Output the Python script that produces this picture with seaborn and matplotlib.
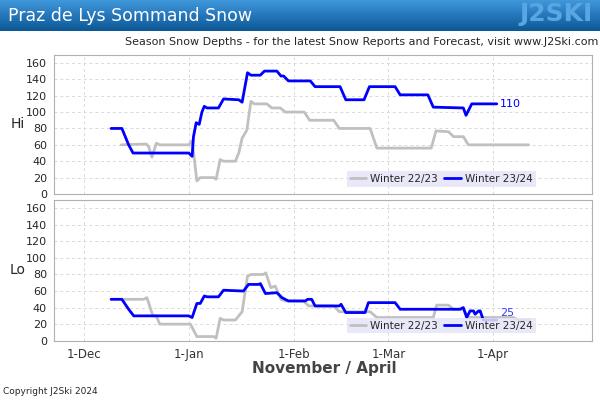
import numpy as np
import pandas as pd
import matplotlib
matplotlib.use('Agg')
import matplotlib.pyplot as plt
import seaborn as sns
from matplotlib.colors import LinearSegmentedColormap

# x values are days counted from 1-Nov
month_days = [30, 61, 92, 120, 151]
month_labels = ['1-Dec', '1-Jan', '1-Feb', '1-Mar', '1-Apr']
seasons = ['Winter 22/23', 'Winter 23/24']

# Hi - Winter 22/23
hi_2223_day = [40.9, 48.3, 49.0, 50.0, 51.3, 52.3, 60.9, 61.9, 63.3, 64.3, 68.3, 69.0, 70.2, 71.2,
               74.7, 75.7, 76.7, 78.1, 79.3, 80.3, 84.0, 85.5, 88.0, 89.5, 95.1, 96.7, 103.8, 105.5,
               114.6, 116.6, 132.7, 134.1, 137.8, 139.3, 142.2, 143.7, 161.5]
hi_2223 = [60, 61, 58, 45, 62, 60, 60, 65, 16, 20, 20, 18, 42, 40,
           40, 50, 68, 78, 113, 110, 110, 105, 105, 100, 100, 90, 90, 80,
           80, 56, 56, 77, 76, 70, 70, 60, 60]

# Hi - Winter 23/24
hi_2324_day = [37.9, 41.1, 43.1, 44.4, 60.9, 61.9, 62.3, 63.1, 64.0, 64.8, 65.5, 66.3, 69.7, 71.2,
               75.7, 76.7, 78.3, 79.3, 82.1, 83.3, 87.0, 88.2, 89.0, 90.4, 96.9, 98.3, 105.7, 107.4,
               112.8, 114.4, 122.0, 123.5, 131.7, 133.3, 142.2, 143.0, 144.7, 152.1]
hi_2324 = [80, 80, 60, 50, 50, 46, 70, 87, 85, 100, 107, 105, 105, 116,
           115, 112, 148, 145, 145, 150, 150, 144, 144, 138, 138, 131, 131, 115,
           115, 131, 131, 121, 121, 106, 105, 96, 110, 110]

# Lo - Winter 22/23
lo_2223_day = [40.9, 47.5, 48.5, 50.3, 51.3, 52.3, 61.4, 63.3, 68.3, 69.0, 70.2, 71.2, 74.7, 76.7,
               78.3, 79.3, 83.0, 83.7, 85.2, 86.5, 88.2, 89.5, 94.9, 96.4, 103.8, 105.5, 114.6,
               116.6, 133.3, 134.3, 137.8, 139.3, 142.2, 143.7, 157.0, 158.5, 161.5]
lo_2223 = [50, 50, 52, 30, 30, 20, 20, 5, 5, 3, 27, 25, 25, 35,
           78, 80, 80, 82, 64, 66, 50, 48, 48, 42, 42, 35, 35,
           28, 28, 43, 43, 38, 38, 28, 28, 25, 25]

# Lo - Winter 23/24
lo_2324_day = [37.9, 41.1, 43.1, 44.6, 60.9, 61.9, 63.3, 64.3, 65.5, 66.4, 69.7, 71.2, 77.1, 78.6,
               81.6, 82.1, 83.6, 87.0, 88.5, 90.4, 95.4, 96.1, 97.3, 98.3, 105.5, 106.0, 107.4,
               113.1, 114.1, 122.0, 123.5, 141.2, 142.2, 143.2, 144.2, 145.2, 145.7, 146.7, 147.2,
               148.1, 152.1]
lo_2324 = [50, 50, 38, 30, 30, 28, 45, 45, 54, 53, 53, 61, 60, 68,
           68, 69, 57, 58, 52, 48, 48, 50, 50, 42, 42, 44, 34,
           34, 46, 46, 38, 38, 40, 28, 36, 36, 32, 36, 36,
           25, 25]


def frame(days, depths, season, panel):
    return pd.DataFrame({'day': days, 'depth': depths, 'season': season, 'panel': panel})


df = pd.concat([
    frame(hi_2223_day, hi_2223, seasons[0], 'Hi'),
    frame(hi_2324_day, hi_2324, seasons[1], 'Hi'),
    frame(lo_2223_day, lo_2223, seasons[0], 'Lo'),
    frame(lo_2324_day, lo_2324, seasons[1], 'Lo'),
], ignore_index=True)

colors = {seasons[0]: '#c0c0c0', seasons[1]: '#0000ff'}

sns.set_style('white')
plt.rcParams['font.family'] = ['DejaVu Sans']

fig = plt.figure(figsize=(6, 4), dpi=100)

# header banner
ax_ban = fig.add_axes([0, 1 - 31 / 400, 1, 31 / 400])
cmap = LinearSegmentedColormap.from_list('ban', ['#3f98da', '#2576ba', '#0d5896'])
ax_ban.imshow(np.linspace(0, 1, 50).reshape(-1, 1), aspect='auto', cmap=cmap, extent=[0, 1, 0, 1])
ax_ban.set_axis_off()
fig.text(8 / 600, 1 - 16 / 400, 'Praz de Lys Sommand Snow', color='white', fontsize=12.5,
         ha='left', va='center')
fig.text(593 / 600, 1 - 14 / 400, 'J2SKI', color='#58a6e2', fontsize=18, fontweight='bold',
         ha='right', va='center')
fig.text(598 / 600, 1 - 42 / 400,
         'Season Snow Depths - for the latest Snow Reports and Forecast, visit www.J2Ski.com',
         fontsize=8, ha='right', va='center')

ax_hi = fig.add_axes([54 / 600, 1 - 194 / 400, 538 / 600, 139.3 / 400])
ax_lo = fig.add_axes([54 / 600, 1 - 340.7 / 400, 538 / 600, 140.7 / 400])

for ax, panel in [(ax_hi, 'Hi'), (ax_lo, 'Lo')]:
    sns.lineplot(data=df[df['panel'] == panel], x='day', y='depth', hue='season',
                 hue_order=seasons, palette=colors, estimator=None, linewidth=2, ax=ax)
    ax.set_xlim(21, 180.3)
    ax.set_ylim(0, 170)
    ax.set_yticks(range(0, 161, 20))
    ax.set_xticks(month_days)
    ax.grid(True, color='#d9d9d9', linestyle=(0, (3, 3)), linewidth=0.7)
    for s in ax.spines.values():
        s.set_color('#b0b0b0')
    ax.tick_params(axis='y', length=3, color='#888888', labelsize=8, pad=2)
    ax.tick_params(axis='x', length=0, labelsize=8.5, labelcolor='#333333', pad=5)
    ax.set_xlabel('')
    ax.set_ylabel('')
    leg = ax.legend(loc='lower right', bbox_to_anchor=(0.905, 0.015), ncol=2, frameon=True,
                    facecolor='#e4e4f7', edgecolor='none', fontsize=7.5, handlelength=1.6,
                    columnspacing=0.6, handletextpad=0.4, borderpad=0.25, fancybox=False,
                    framealpha=0.85)
    leg.set_zorder(5)

ax_hi.set_xticklabels([])
ax_lo.set_xticklabels(month_labels)

ax_hi.text(hi_2324_day[-1] + 1.0, hi_2324[-1], str(hi_2324[-1]), color='#0000ff', fontsize=8,
           va='center', ha='left')
ax_lo.text(lo_2324_day[-1] + 1.0, lo_2324[-1] + 8, str(lo_2324[-1]), color='#3a3aff', fontsize=8,
           va='center', ha='left', zorder=6)

fig.text(18 / 600, 1 - 124 / 400, 'Hi', fontsize=10, ha='center', va='center')
fig.text(18 / 600, 1 - 270 / 400, 'Lo', fontsize=10, ha='center', va='center')
fig.text(324 / 600, 1 - 369 / 400, 'November / April', fontsize=11, fontweight='bold',
         color='#444444', ha='center', va='center')
fig.text(3 / 600, 1 - 392 / 400, 'Copyright J2Ski 2024', fontsize=6.5, ha='left', va='center')

fig.savefig('out.png', dpi=100)
